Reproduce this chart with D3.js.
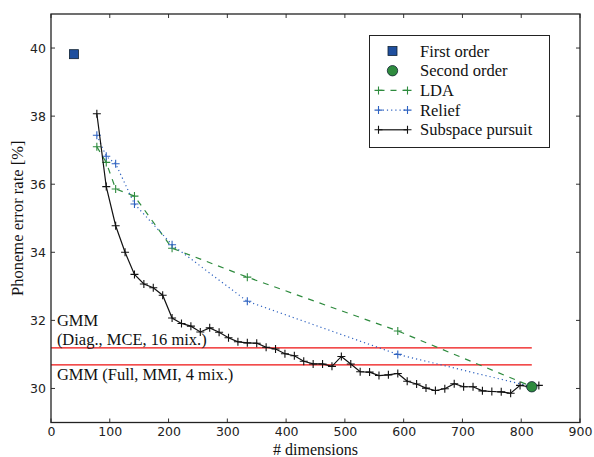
<!DOCTYPE html>
<html>
<head>
<meta charset="utf-8">
<script src="https://cdn.jsdelivr.net/npm/d3@7"></script>
<style>
  body { margin: 0; background: #fff; }
  svg { display: block; }
</style>
</head>
<body>
<svg id="chart" width="594" height="457"></svg>
<script>
// data
var subspaceDims = [78, 94, 110, 126, 142, 158, 174, 190, 206, 222, 238, 254, 270, 286, 302, 318,
                    334, 350, 366, 382, 398, 414, 430, 446, 462, 478, 494, 510, 526, 542, 558, 574,
                    590, 606, 622, 638, 654, 670, 686, 702, 718, 734, 750, 766, 782, 798, 814, 830];
var subspaceErr = [38.07, 35.93, 34.78, 34.00, 33.35, 33.07, 32.96, 32.74, 32.07, 31.91, 31.83, 31.66,
                   31.78, 31.65, 31.49, 31.37, 31.34, 31.33, 31.21, 31.16, 31.02, 30.96, 30.80, 30.72,
                   30.72, 30.65, 30.94, 30.72, 30.49, 30.48, 30.38, 30.40, 30.44, 30.21, 30.13, 30.01,
                   29.94, 29.99, 30.14, 30.05, 30.05, 29.93, 29.91, 29.90, 29.86, 30.09, 30.05, 30.09];

var ldaDims = [78, 94, 110, 142, 206, 334, 590, 816];
var ldaErr = [37.10, 36.64, 35.86, 35.65, 34.12, 33.27, 31.69, 30.07];

var reliefDims = [78, 94, 110, 142, 206, 334, 590, 816];
var reliefErr = [37.44, 36.82, 36.60, 35.42, 34.22, 32.56, 31.00, 30.06];

var firstOrder = [39, 39.82];
var secondOrder = [818, 30.05];

var gmmDiag = 31.19;
var gmmFull = 30.69;
var gmmEnd = 818;

var xTicks = [0, 100, 200, 300, 400, 500, 600, 700, 800, 900];
var yTicks = [30, 32, 34, 36, 38, 40];

var chartSVG = d3.select('#chart');
var svgWidth = 594, svgHeight = 457;
var margin = {left: 51, right: 14, top: 14, bottom: 34.5};
var serifFont = '"Liberation Serif", "DejaVu Serif", serif';
var sansFont = '"DejaVu Sans", sans-serif';

var xScale = d3.scaleLinear()
               .domain([0, 900])
               .range([margin.left, svgWidth - margin.right]);
var yScale = d3.scaleLinear()
               .domain([29, 41])
               .range([svgHeight - margin.bottom, margin.top]);

var green = '#2e8b3e', blue = '#2e62c0', darkBlue = '#1f4f9e';
var plus = 'M-4,0H4M0,-4V4';

function serifText(parent, x, y, str) {
  return parent.append('text')
    .attr('x', x).attr('y', y)
    .attr('font-family', serifFont)
    .attr('font-size', '16.5px')
    .attr('fill', '#111')
    .text(str);
}

// red reference lines
[gmmDiag, gmmFull].forEach(function(v) {
  chartSVG.append('line')
    .attr('x1', xScale(0)).attr('x2', xScale(gmmEnd))
    .attr('y1', yScale(v)).attr('y2', yScale(v))
    .attr('stroke', '#ee1111')
    .attr('stroke-width', 1.2);
});

function drawSeries(dims, errs, color, dash) {
  var pts = dims.map((d, i) => [d, errs[i]]);
  var line = d3.line().x(d => xScale(d[0])).y(d => yScale(d[1]));
  chartSVG.append('path')
    .datum(pts)
    .attr('d', line)
    .attr('fill', 'none')
    .attr('stroke', color)
    .attr('stroke-width', 1.2)
    .attr('stroke-dasharray', dash);
  chartSVG.selectAll(null)
    .data(pts)
    .enter()
    .append('path')
      .attr('transform', d => `translate(${xScale(d[0])},${yScale(d[1])})`)
      .attr('d', plus)
      .attr('stroke', color)
      .attr('stroke-width', 1.1);
}

drawSeries(ldaDims, ldaErr, green, '6,6');
drawSeries(reliefDims, reliefErr, blue, '1.2,3');
drawSeries(subspaceDims, subspaceErr, '#111', null);

chartSVG.append('rect')
  .attr('x', xScale(firstOrder[0]) - 4.5)
  .attr('y', yScale(firstOrder[1]) - 4.5)
  .attr('width', 9).attr('height', 9)
  .attr('fill', darkBlue)
  .attr('stroke', '#123')
  .attr('stroke-width', 0.8);
chartSVG.append('circle')
  .attr('cx', xScale(secondOrder[0]))
  .attr('cy', yScale(secondOrder[1]))
  .attr('r', 5.2)
  .attr('fill', green)
  .attr('stroke', '#123')
  .attr('stroke-width', 0.8);

// axes, matplotlib style ticks pointing inwards
var xAxis = d3.axisBottom(xScale).tickValues(xTicks).tickSize(0).tickPadding(5);
var yAxis = d3.axisLeft(yScale).tickValues(yTicks).tickSize(0).tickPadding(5);

chartSVG.append('g')
  .attr('transform', `translate(0, ${svgHeight - margin.bottom})`)
  .call(xAxis)
  .attr('font-family', sansFont)
  .attr('font-size', 12.5)
  .call(g => g.select('.domain').remove())
  .selectAll('text').attr('fill', '#222');
chartSVG.append('g')
  .attr('transform', `translate(${margin.left}, 0)`)
  .call(yAxis)
  .attr('font-family', sansFont)
  .attr('font-size', 12.5)
  .call(g => g.select('.domain').remove())
  .selectAll('text').attr('fill', '#222');

var ticks = chartSVG.append('g').attr('stroke', '#333').attr('stroke-width', 1);
xTicks.forEach(function(t) {
  var x = xScale(t);
  ticks.append('line').attr('x1', x).attr('x2', x).attr('y1', yScale(29)).attr('y2', yScale(29) - 4);
  ticks.append('line').attr('x1', x).attr('x2', x).attr('y1', yScale(41)).attr('y2', yScale(41) + 4);
});
yTicks.forEach(function(t) {
  var y = yScale(t);
  ticks.append('line').attr('x1', xScale(0)).attr('x2', xScale(0) + 4).attr('y1', y).attr('y2', y);
  ticks.append('line').attr('x1', xScale(900)).attr('x2', xScale(900) - 4).attr('y1', y).attr('y2', y);
});

chartSVG.append('rect')
  .attr('x', xScale(0)).attr('y', yScale(41))
  .attr('width', xScale(900) - xScale(0))
  .attr('height', yScale(29) - yScale(41))
  .attr('fill', 'none')
  .attr('stroke', '#222')
  .attr('stroke-width', 1.3);

// annotations
serifText(chartSVG, xScale(10), yScale(31.83), 'GMM');
serifText(chartSVG, xScale(10), yScale(31.29), '(Diag., MCE, 16 mix.)');
serifText(chartSVG, xScale(10), yScale(30.26), 'GMM (Full, MMI, 4 mix.)');

// axis labels
serifText(chartSVG, (xScale(0) + xScale(900)) / 2, 454.5, '# dimensions')
  .attr('font-size', '16px')
  .attr('text-anchor', 'middle');
serifText(chartSVG, 0, 0, 'Phoneme error rate [%]')
  .attr('transform', `translate(23, ${(yScale(29) + yScale(41)) / 2}) rotate(-90)`)
  .attr('text-anchor', 'middle');

// legend
var legend = chartSVG.append('g').attr('transform', 'translate(369.5, 35.5)');
legend.append('rect')
  .attr('width', 180).attr('height', 112)
  .attr('fill', '#fff')
  .attr('stroke', '#222')
  .attr('stroke-width', 1);

var legendItems = [
  {label: 'First order', kind: 'square'},
  {label: 'Second order', kind: 'circle'},
  {label: 'LDA', kind: 'line', color: green, dash: '6,6'},
  {label: 'Relief', kind: 'line', color: blue, dash: '1.2,3'},
  {label: 'Subspace pursuit', kind: 'line', color: '#111', dash: null}
];

legendItems.forEach(function(item, i) {
  var y = 15.5 + i * 19.7;
  var g = legend.append('g').attr('transform', `translate(0, ${y})`);
  if (item.kind === 'square') {
    g.append('rect').attr('x', 18.5).attr('y', -4.5).attr('width', 9).attr('height', 9)
      .attr('fill', darkBlue).attr('stroke', '#123').attr('stroke-width', 0.8);
  } else if (item.kind === 'circle') {
    g.append('circle').attr('cx', 23).attr('cy', 0).attr('r', 5.2)
      .attr('fill', green).attr('stroke', '#123').attr('stroke-width', 0.8);
  } else {
    g.append('line').attr('x1', 9).attr('x2', 38).attr('y1', 0).attr('y2', 0)
      .attr('stroke', item.color).attr('stroke-width', 1.2).attr('stroke-dasharray', item.dash);
    [9, 38].forEach(function(x) {
      g.append('path').attr('transform', `translate(${x},0)`).attr('d', plus)
        .attr('stroke', item.color).attr('stroke-width', 1.1);
    });
  }
  serifText(g, 50.5, 5.5, item.label);
});
</script>
</body>
</html>
